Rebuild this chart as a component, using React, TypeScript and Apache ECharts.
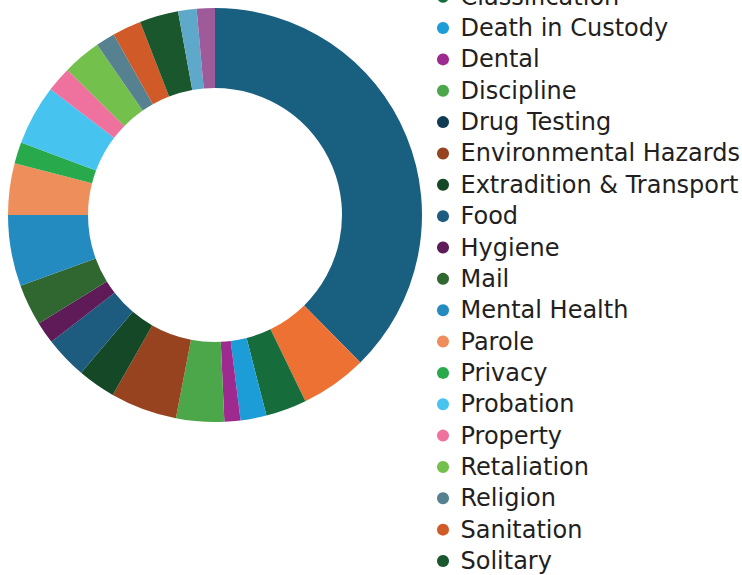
import React, { useEffect, useRef } from "react";
import * as echarts from "echarts";

const categories = [
  "Access to Care",
  "ADA Accommodation",
  "Classification",
  "Death in Custody",
  "Dental",
  "Discipline",
  "Drug Testing",
  "Environmental Hazards",
  "Extradition & Transport",
  "Food",
  "Hygiene",
  "Mail",
  "Mental Health",
  "Parole",
  "Privacy",
  "Probation",
  "Property",
  "Retaliation",
  "Religion",
  "Sanitation",
  "Solitary",
  "Staff Conduct",
  "Visitation",
];

const values = [
  135.4, 18.7, 11.5, 7.3, 4.5, 13.5, 0, 18.7, 10.7, 11.9, 6.2, 11.6, 20.0, 14.5,
  6.0, 16.9, 7.1, 10.8, 5.4, 8.1, 10.9, 5.2, 5.1,
];

const colors = [
  "#185f80",
  "#ec7133",
  "#166c3a",
  "#1d9dd8",
  "#9e2a8f",
  "#4ca74a",
  "#0f3b53",
  "#974320",
  "#154826",
  "#1d5c7e",
  "#5e1b57",
  "#306630",
  "#248bc0",
  "#ee8f5b",
  "#28a94b",
  "#47c3f0",
  "#ef719e",
  "#73c04c",
  "#558190",
  "#d05a28",
  "#1a572c",
  "#5ea8c9",
  "#9f5a9a",
];

export default function App() {
  const ref = useRef<HTMLDivElement>(null);
  useEffect(() => {
    if (!ref.current) return;
    const chart = echarts.init(ref.current, undefined, { renderer: "svg" });
    chart.setOption({
      animation: false,
      color: colors,
      legend: {
        orient: "vertical",
        left: 437,
        top: -78,
        padding: 0,
        itemWidth: 25,
        itemHeight: 12,
        itemGap: 7.35,
        icon: "circle",
        textStyle: {
          fontFamily: "DejaVu Sans",
          fontSize: 24,
          lineHeight: 24,
          color: "#231f20",
        },
        data: categories,
      },
      series: [
        {
          type: "pie",
          center: [215, 215],
          radius: [127, 207],
          startAngle: 90,
          clockwise: true,
          avoidLabelOverlap: false,
          label: { show: false },
          labelLine: { show: false },
          emphasis: { disabled: true },
          itemStyle: { borderWidth: 0 },
          data: categories.map((name, i) => ({ name, value: values[i] })),
        },
      ],
    });
    return () => chart.dispose();
  }, []);
  return (
    <div
      ref={ref}
      style={{ position: "absolute", left: 0, top: 0, width: 742, height: 575 }}
    />
  );
}
